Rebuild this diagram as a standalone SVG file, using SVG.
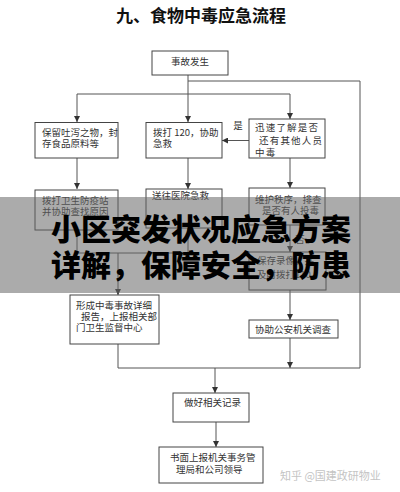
<svg xmlns="http://www.w3.org/2000/svg" width="400" height="492" viewBox="0 0 400 492">
<style>
.box{fill:#fff;stroke:#444;stroke-width:1}
.ln{fill:none;stroke:#555;stroke-width:1}
.t{font-family:"Noto Sans CJK SC","Liberation Serif",sans-serif;font-size:9.5px;fill:#333}
.title{font-family:"Noto Sans CJK SC",sans-serif;font-size:17px;font-weight:700;fill:#111}
.ban{font-family:"Noto Sans CJK SC",sans-serif;font-size:30px;font-weight:900;fill:#000}
</style>
<defs>
<marker id="ar" viewBox="0 0 6 6" refX="6" refY="3" markerWidth="6" markerHeight="6" markerUnits="userSpaceOnUse" orient="auto">
<path d="M0,0 L6,3 L0,6 Z" fill="#333"/>
</marker>
</defs>
<rect width="400" height="492" fill="#fff"/>
<text class="title" x="201" y="22" text-anchor="middle">九、食物中毒应急流程</text>

<g id="connectors">
<path class="ln" d="M188,75 V122" marker-end="url(#ar)"/>
<path class="ln" d="M188,81 H360 V368"/>
<path class="ln" d="M77,94 H290"/>
<path class="ln" d="M77,94 V122" marker-end="url(#ar)"/>
<path class="ln" d="M290,94 V119" marker-end="url(#ar)"/>
<path class="ln" d="M249,140.5 H222" marker-end="url(#ar)"/>
<path class="ln" d="M77,158 V189" marker-end="url(#ar)"/>
<path class="ln" d="M188,158 V189" marker-end="url(#ar)"/>
<path class="ln" d="M290,158 V188" marker-end="url(#ar)"/>
<path class="ln" d="M77,230 V253 H188 V228"/>
<path class="ln" d="M118,253 V295" marker-end="url(#ar)"/>
<path class="ln" d="M290,225 V252" marker-end="url(#ar)"/>
<path class="ln" d="M290,290 V320" marker-end="url(#ar)"/>
<path class="ln" d="M118,344 V368 H360"/>
<path class="ln" d="M290,338 V368" marker-end="url(#ar)"/>
<path class="ln" d="M215,368 V393" marker-end="url(#ar)"/>
<path class="ln" d="M216,422 V447" marker-end="url(#ar)"/>
<text class="t" x="238" y="129" text-anchor="middle">是</text>
<text class="t" x="300" y="243" text-anchor="middle">否</text>
</g>

<g id="n-start">
<rect class="box" x="152" y="51" width="76" height="24"/>
<text class="t" x="190" y="65" text-anchor="middle">事故发生</text>
</g>
<g id="n-keep">
<rect class="box" x="35" y="122.5" width="83" height="35.5"/>
<text class="t" x="42" y="136">保留吐泻之物，封</text>
<text class="t" x="42" y="147">存食品原料等</text>
</g>
<g id="n-call120">
<rect class="box" x="146" y="122.5" width="76" height="35.5"/>
<text class="t" x="153" y="136">拨打 120，协助</text>
<text class="t" x="153" y="147">急救</text>
</g>
<g id="n-check">
<rect class="box" x="249" y="119" width="76" height="39"/>
<text class="t" x="255" y="131" letter-spacing="1.2">迅速了解是否</text>
<text class="t" x="259" y="144" letter-spacing="1.2">还有其他人员</text>
<text class="t" x="255" y="156" letter-spacing="1.2">中毒</text>
</g>
<g id="n-epidemic">
<rect class="box" x="35" y="190" width="83" height="40"/>
<text class="t" x="42" y="204">拨打卫生防疫站</text>
<text class="t" x="42" y="215">并协助查找原因</text>
</g>
<g id="n-hospital">
<rect class="box" x="146" y="189" width="76" height="39"/>
<text class="t" x="152" y="199">送往医院急救</text>
</g>
<g id="n-order">
<rect class="box" x="249" y="188" width="76" height="37"/>
<text class="t" x="255" y="203">维护秩序，排查</text>
<text class="t" x="262" y="214">是否有人投毒</text>
</g>
<g id="n-video">
<rect class="box" x="249" y="252" width="77" height="38"/>
<text class="t" x="257" y="264">保存录像，并</text>
<text class="t" x="257" y="278">及时拨打110</text>
</g>
<g id="n-report">
<rect class="box" x="70" y="295" width="89" height="49"/>
<text class="t" x="76" y="308.5">形成中毒事故详细</text>
<text class="t" x="81" y="319.5">报告，上报相关部</text>
<text class="t" x="76" y="330.5">门卫生监督中心</text>
</g>
<g id="n-police">
<rect class="box" x="249" y="320" width="89" height="18"/>
<text class="t" x="255" y="332.5">协助公安机关调查</text>
</g>
<g id="n-record">
<rect class="box" x="173" y="393" width="76" height="29"/>
<text class="t" x="184" y="405.5">做好相关记录</text>
</g>
<g id="n-written">
<rect class="box" x="159" y="447" width="104" height="36"/>
<text class="t" x="170" y="460.5">书面上报机关事务管</text>
<text class="t" x="176" y="472.5">理局和公司领导</text>
</g>

<text x="280" y="480" font-family="Noto Sans CJK SC, sans-serif" font-size="11" fill="#c4c4c4">知乎 @国建政研物业</text>

<g id="banner">
<rect x="0" y="197" width="400" height="96" fill="#666" opacity="0.55"/>
<text class="ban" x="51" y="240">小区突发状况应急方案</text>
<text class="ban" x="51" y="276">详解，保障安全，防患</text>
</g>
</svg>
